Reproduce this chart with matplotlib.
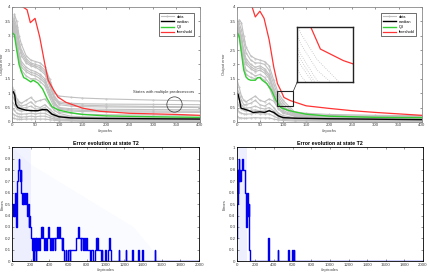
import numpy as np
import matplotlib
matplotlib.use("Agg")
import matplotlib.pyplot as plt
from matplotlib.patches import Rectangle

plt.rcParams["font.family"] = ["Liberation Sans", "DejaVu Sans"]

# ---- top panels: output error vs epochs ----
epochs = [0, 5, 10, 15, 20, 30, 40, 50, 60, 70, 80, 90, 100, 125, 150, 200, 300, 400]

left_gray = [
    [3.0, 3.75, 3.5, 3.0, 2.7, 2.3, 2.15, 2.1, 2.05, 1.9, 1.5, 1.0, 0.9, 0.86, 0.83, 0.8, 0.76, 0.73],
    [3.1, 3.6, 3.3, 2.8, 2.5, 2.2, 2.05, 2.0, 1.95, 1.8, 1.4, 0.9, 0.7, 0.65, 0.63, 0.62, 0.61, 0.6],
    [3.05, 3.45, 3.2, 2.7, 2.4, 2.12, 2.0, 1.95, 1.88, 1.72, 1.3, 0.85, 0.65, 0.6, 0.58, 0.56, 0.54, 0.52],
    [3.05, 3.4, 3.1, 2.6, 2.3, 2.05, 1.95, 1.9, 1.8, 1.65, 1.25, 0.8, 0.6, 0.55, 0.53, 0.52, 0.51, 0.5],
    [3.0, 3.3, 2.9, 2.4, 2.1, 1.9, 1.8, 1.75, 1.65, 1.5, 1.1, 0.7, 0.5, 0.46, 0.45, 0.44, 0.43, 0.42],
    [3.0, 3.2, 2.8, 2.3, 2.0, 1.82, 1.72, 1.68, 1.58, 1.42, 1.02, 0.65, 0.48, 0.42, 0.4, 0.39, 0.38, 0.37],
    [3.0, 3.2, 2.7, 2.2, 1.9, 1.75, 1.65, 1.6, 1.5, 1.35, 0.95, 0.6, 0.45, 0.38, 0.36, 0.35, 0.34, 0.33],
    [3.0, 3.1, 2.6, 2.1, 1.8, 1.6, 1.5, 1.5, 1.4, 1.25, 0.85, 0.5, 0.35, 0.3, 0.27, 0.25, 0.24, 0.22],
    [1.2, 1.1, 0.8, 0.7, 0.65, 0.75, 0.85, 0.7, 0.75, 0.8, 0.6, 0.4, 0.3, 0.2, 0.18, 0.16, 0.15, 0.14],
    [1.1, 0.95, 0.7, 0.6, 0.55, 0.6, 0.7, 0.55, 0.5, 0.6, 0.45, 0.3, 0.22, 0.17, 0.15, 0.13, 0.12, 0.11],
    [0.9, 0.8, 0.6, 0.5, 0.48, 0.5, 0.55, 0.45, 0.45, 0.5, 0.35, 0.25, 0.18, 0.14, 0.12, 0.1, 0.09, 0.08],
    [0.7, 0.6, 0.45, 0.4, 0.38, 0.4, 0.42, 0.38, 0.4, 0.4, 0.3, 0.2, 0.15, 0.11, 0.09, 0.08, 0.07, 0.06],
    [0.5, 0.4, 0.3, 0.28, 0.27, 0.28, 0.3, 0.28, 0.3, 0.3, 0.22, 0.15, 0.1, 0.08, 0.06, 0.05, 0.05, 0.04],
    [0.3, 0.25, 0.2, 0.18, 0.17, 0.18, 0.2, 0.18, 0.2, 0.2, 0.15, 0.1, 0.07, 0.05, 0.04, 0.03, 0.03, 0.02],
    [0.15, 0.12, 0.1, 0.09, 0.09, 0.1, 0.1, 0.1, 0.1, 0.1, 0.08, 0.06, 0.04, 0.03, 0.02, 0.02, 0.02, 0.01],
]
right_gray = [
    [3.0, 3.55, 3.45, 3.0, 2.6, 2.3, 2.2, 2.15, 2.1, 1.95, 1.45, 1.0, 0.75, 0.35, 0.3, 0.26, 0.23, 0.22],
    [3.05, 3.45, 3.2, 2.8, 2.4, 2.15, 2.05, 2.05, 2.0, 1.8, 1.3, 0.9, 0.65, 0.3, 0.26, 0.22, 0.2, 0.19],
    [3.1, 3.3, 3.0, 2.5, 2.2, 2.0, 1.9, 1.95, 1.85, 1.65, 1.15, 0.8, 0.55, 0.27, 0.23, 0.2, 0.18, 0.17],
    [3.0, 3.25, 2.9, 2.4, 2.1, 1.92, 1.82, 1.88, 1.78, 1.58, 1.08, 0.75, 0.5, 0.26, 0.22, 0.19, 0.17, 0.16],
    [3.0, 3.2, 2.8, 2.3, 2.0, 1.85, 1.75, 1.8, 1.7, 1.5, 1.0, 0.7, 0.47, 0.25, 0.21, 0.18, 0.16, 0.15],
    [3.0, 3.1, 2.6, 2.1, 1.8, 1.7, 1.6, 1.65, 1.55, 1.35, 0.9, 0.6, 0.4, 0.22, 0.19, 0.16, 0.15, 0.14],
    [3.0, 3.0, 2.5, 1.9, 1.65, 1.55, 1.5, 1.55, 1.45, 1.2, 0.8, 0.5, 0.35, 0.2, 0.17, 0.15, 0.13, 0.12],
    [1.5, 1.2, 0.9, 0.75, 0.7, 0.8, 0.9, 0.75, 0.7, 0.8, 0.72, 0.45, 0.3, 0.2, 0.17, 0.15, 0.13, 0.12],
    [1.2, 1.0, 0.75, 0.6, 0.6, 0.65, 0.75, 0.6, 0.55, 0.65, 0.5, 0.3, 0.22, 0.15, 0.13, 0.11, 0.1, 0.09],
    [0.95, 0.8, 0.6, 0.5, 0.48, 0.5, 0.55, 0.48, 0.45, 0.5, 0.38, 0.24, 0.17, 0.12, 0.1, 0.08, 0.07, 0.06],
    [0.7, 0.55, 0.45, 0.4, 0.38, 0.4, 0.42, 0.38, 0.38, 0.4, 0.3, 0.18, 0.13, 0.09, 0.07, 0.06, 0.05, 0.05],
    [0.45, 0.35, 0.3, 0.28, 0.27, 0.28, 0.3, 0.28, 0.28, 0.28, 0.2, 0.12, 0.09, 0.06, 0.05, 0.04, 0.04, 0.03],
    [0.2, 0.15, 0.14, 0.13, 0.13, 0.14, 0.15, 0.14, 0.14, 0.14, 0.1, 0.07, 0.05, 0.03, 0.03, 0.02, 0.02, 0.02],
]

left_median_ep = [0, 3, 6, 8, 12, 20, 30, 40, 55, 65, 75, 85, 100, 125, 150, 200, 400]
left_median = [1.03, 1.05, 0.92, 0.62, 0.5, 0.45, 0.41, 0.39, 0.39, 0.43, 0.42, 0.27, 0.18, 0.14, 0.13, 0.12, 0.1]
left_q3_ep = [2, 5, 10, 15, 20, 25, 30, 40, 45, 55, 65, 75, 85, 100, 125, 150, 200, 300, 400]
left_q3 = [3.08, 3.03, 2.5, 2.0, 1.74, 1.54, 1.5, 1.39, 1.45, 1.35, 1.15, 0.8, 0.53, 0.41, 0.32, 0.26, 0.21, 0.18, 0.16]
left_thr_ep = [18, 32, 39, 49, 59, 70, 77, 87, 98, 115, 150, 187, 250, 300, 350, 400]
left_thr = [4.05, 3.9, 3.45, 3.6, 2.95, 2.0, 1.45, 1.15, 0.86, 0.68, 0.48, 0.37, 0.3, 0.28, 0.26, 0.23]

right_median_ep = [0, 3, 6, 9, 15, 25, 35, 50, 60, 70, 80, 90, 100, 125, 200, 400]
right_median = [1.0, 0.95, 0.74, 0.48, 0.45, 0.4, 0.33, 0.35, 0.33, 0.39, 0.33, 0.21, 0.15, 0.13, 0.11, 0.08]
right_q3_ep = [2, 5, 10, 15, 20, 25, 30, 40, 45, 50, 55, 65, 75, 85, 95, 110, 125, 150, 200, 300, 400]
right_q3 = [3.08, 2.97, 2.4, 1.8, 1.56, 1.48, 1.45, 1.45, 1.54, 1.54, 1.45, 1.33, 1.1, 0.74, 0.5, 0.41, 0.35, 0.27, 0.2, 0.16, 0.15]
right_thr_ep = [32, 40, 50, 59, 70, 80, 88, 95, 102, 116, 150, 200, 250, 300, 400]
right_thr = [4.05, 3.65, 3.85, 3.6, 2.85, 1.9, 1.33, 1.1, 0.85, 0.74, 0.56, 0.47, 0.39, 0.33, 0.23]

# ---- bottom panels: error evolution at state T2 ----
bl_ep = [0, 8, 18, 25, 35, 45, 50, 58, 65, 72, 80, 88, 95, 100, 108, 115, 122, 130, 138, 145,
         155, 165, 172, 178, 185, 192, 200, 215, 222, 228, 234, 240, 248, 255, 260, 268, 275, 290,
         298, 305, 318, 325, 333, 345, 352, 365, 372, 385, 395, 410, 418, 430, 438, 455, 462, 480,
         488, 500, 512, 530, 538, 550, 560, 575, 582, 600, 615, 625, 680, 710, 720, 735, 742, 760,
         768, 780, 790, 800, 830, 840, 870, 885, 895, 905, 912, 920, 950, 958, 965, 990, 1000, 1030,
         1040, 1048, 1060, 1140, 1148, 1215, 1223, 1285, 1293, 1345, 1353, 1388, 1396, 1525, 1532, 2000]
bl_err = [0.5, 0.4, 0.5, 0.4, 0.6, 0.3, 0.6, 0.7, 0.8, 0.9, 0.8, 0.7, 0.8, 0.6, 0.5, 0.6, 0.5, 0.6, 0.5, 0.6,
          0.5, 0.4, 0.5, 0.3, 0.4, 0.3, 0.2, 0.1, 0.2, 0.0, 0.2, 0.1, 0.2, 0.0, 0.2, 0.1, 0.2, 0.1,
          0.2, 0.3, 0.2, 0.3, 0.2, 0.1, 0.2, 0.1, 0.2, 0.3, 0.2, 0.1, 0.2, 0.1, 0.2, 0.1, 0.2, 0.3,
          0.2, 0.3, 0.2, 0.1, 0.2, 0.1, 0.0, 0.1, 0.0, 0.1, 0.0, 0.1, 0.2, 0.3, 0.2, 0.1, 0.2, 0.1,
          0.2, 0.1, 0.2, 0.1, 0.0, 0.1, 0.0, 0.1, 0.2, 0.1, 0.2, 0.1, 0.0, 0.1, 0.0, 0.1, 0.0, 0.1,
          0.2, 0.1, 0.0, 0.1, 0.0, 0.1, 0.0, 0.1, 0.0, 0.1, 0.0, 0.1, 0.0, 0.1, 0.0, 0.0]
# faint envelope of the other runs
bl_shade_ep = [0, 200, 400, 700, 1000, 1300, 1600]
bl_shade_top = [1.0, 0.85, 0.75, 0.6, 0.45, 0.3, 0.0]
bl_core_ep = [0, 200]
bl_core_top = [1.0, 1.0]

br_ep = [0, 3, 6, 10, 14, 18, 22, 27, 32, 38, 44, 50, 55, 61, 70, 81, 88, 94, 100, 108, 115, 122,
         128, 135, 142, 340, 346, 440, 446, 550, 556, 598, 604, 610, 616, 2000]
br_err = [0.2, 0.4, 0.5, 0.8, 0.6, 0.8, 0.9, 0.7, 0.8, 0.7, 0.7, 0.8, 0.9, 0.9, 0.8, 0.8, 0.6, 0.5,
          0.3, 0.6, 0.5, 0.4, 0.5, 0.1, 0.0, 0.2, 0.0, 0.1, 0.0, 0.1, 0.0, 0.1, 0.0, 0.1, 0.0, 0.0]
br_shade_ep = [0, 110]
br_shade_top = [1.0, 1.0]
br_core_ep = [0, 110]
br_core_top = [1.0, 1.0]

GRAY = "#c0c0c0"
FS = 3.2
LABEL_FS = 2.9


def style_axes(ax, edge):
    for s in ax.spines.values():
        s.set_color(edge)
        s.set_linewidth(0.6)
    ax.tick_params(direction="in", top=True, right=True, length=1.5, width=0.4,
                   labelsize=FS, colors="#444444", pad=1.0)


def top_panel(ax, gray, med_x, med, q3_x, q3, thr_x, thr):
    for i, g in enumerate(gray):
        ax.plot(epochs, g, color=GRAY, lw=0.8, marker=".", ms=0.8,
                label="data" if i == 0 else None)
    ax.plot(med_x, med, color="black", lw=1.0, label="median")
    ax.plot(q3_x, q3, color="#33cc33", lw=1.0, label="Q3")
    ax.plot(thr_x, thr, color="#ff3333", lw=0.9, label="threshold")
    ax.set_xlim(0, 400)
    ax.set_ylim(0, 4)
    ax.set_xticks(np.arange(0, 401, 50))
    ax.set_yticks(np.arange(0, 4.01, 0.5))
    ax.set_yticklabels(["0", "0.5", "1", "1.5", "2", "2.5", "3", "3.5", "4"])
    ax.set_xlabel("#epochs", fontsize=LABEL_FS, labelpad=1.2, color="#444444")
    ax.set_ylabel("Output error", fontsize=LABEL_FS, color="#444444")
    style_axes(ax, "#888888")
    leg = ax.legend(loc="upper right", fontsize=2.8, frameon=True, fancybox=False,
                    handlelength=3.4, borderpad=0.45, labelspacing=0.3, handletextpad=0.7,
                    bbox_to_anchor=(0.98, 0.965))
    leg.get_frame().set_edgecolor("black")
    leg.get_frame().set_linewidth(0.5)


def bottom_panel(ax, ep, err, sh_ep, sh_top, core_ep, core_top):
    ax.fill_between(sh_ep, 0, sh_top, color="#7f8fff", alpha=0.035, lw=0)
    ax.fill_between(core_ep, 0, core_top, color="#7f8fff", alpha=0.10, lw=0)
    ax.step(ep, err, where="post", color="#0000ee", lw=1.0)
    ax.set_xlim(0, 2000)
    ax.set_ylim(0, 1)
    ax.set_xticks(np.arange(0, 2001, 200))
    ax.set_yticks(np.arange(0, 1.01, 0.1))
    ax.set_yticklabels(["0", "0.1", "0.2", "0.3", "0.4", "0.5", "0.6", "0.7", "0.8", "0.9", "1"])
    ax.set_title("Error evolution at state T2", fontsize=3.8, fontweight="bold", pad=1.5)
    ax.set_xlabel("#episodes", fontsize=LABEL_FS, labelpad=0.8, color="#444444")
    ax.set_ylabel("Errors", fontsize=LABEL_FS, color="#444444")
    style_axes(ax, "black")


fig = plt.figure(figsize=(4.29, 2.74), dpi=100)
ax_tl = fig.add_axes([0.028, 0.555, 0.438, 0.420])
ax_tr = fig.add_axes([0.552, 0.555, 0.431, 0.420])
ax_bl = fig.add_axes([0.028, 0.047, 0.436, 0.416])
ax_br = fig.add_axes([0.552, 0.047, 0.434, 0.416])

top_panel(ax_tl, left_gray, left_median_ep, left_median, left_q3_ep, left_q3,
          left_thr_ep, left_thr)
top_panel(ax_tr, right_gray, right_median_ep, right_median, right_q3_ep, right_q3,
          right_thr_ep, right_thr)

# annotation on the left panel
ax_tl.text(322, 0.97, "States with multiple predecessors", fontsize=3.0,
           ha="center", va="bottom", color="#333333")
ax_tl.plot([345], [0.63], marker="o", ms=11, mfc="none", mec="#333333", mew=0.5)

# zoom inset on the right panel
ax_tr.add_patch(Rectangle((88, 0.54), 34, 0.52, fill=False, ec="#222222", lw=0.8, zorder=5))
ins = ax_tr.inset_axes([131, 1.4, 121, 1.9], transform=ax_tr.transData)
for g in right_gray:
    ins.plot(epochs, g, color=GRAY, lw=0.6, ls=":")
ins.plot(right_thr_ep, right_thr, color="#ff3333", lw=0.9)
ins.set_xlim(88, 122)
ins.set_ylim(0.54, 1.06)
ins.set_xticks([])
ins.set_yticks([])
for s in ins.spines.values():
    s.set_color("#222222")
    s.set_linewidth(1.0)
ax_tr.plot([122, 131], [1.06, 1.4], color="#222222", lw=0.5)

bottom_panel(ax_bl, bl_ep, bl_err, bl_shade_ep, bl_shade_top, bl_core_ep, bl_core_top)
bottom_panel(ax_br, br_ep, br_err, br_shade_ep, br_shade_top, br_core_ep, br_core_top)

# keep the left y labels inside the figure
ax_tl.yaxis.set_label_coords(-0.042, 0.5)
ax_bl.yaxis.set_label_coords(-0.042, 0.5)
ax_tr.yaxis.set_label_coords(-0.057, 0.5)
ax_br.yaxis.set_label_coords(-0.057, 0.5)

fig.savefig("out.png", dpi=100)
